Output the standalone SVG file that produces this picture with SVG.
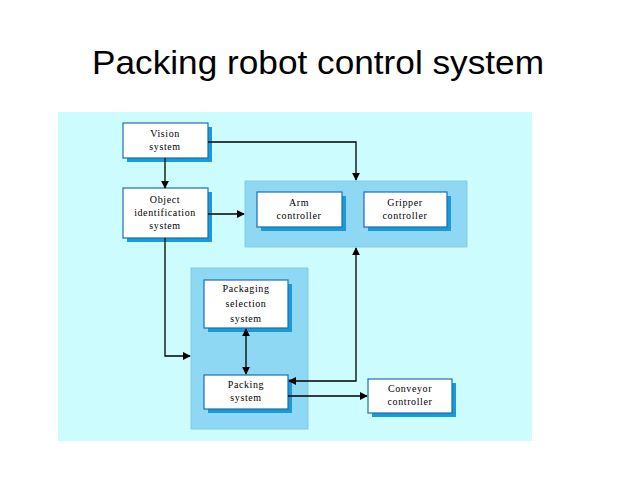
<svg xmlns="http://www.w3.org/2000/svg" width="638" height="479" viewBox="0 0 638 479">
<style>
.sh{fill:#1a9ad8}
.bx{fill:#fff;stroke:#1b6fb0;stroke-width:1.2}
.grp{fill:#8fd8f4;stroke:#7cc3e0;stroke-width:0.8}
.t{font-family:"Liberation Serif",serif;font-size:10px;fill:#000;text-anchor:middle;letter-spacing:0.6px}
.c{fill:none;stroke:#000;stroke-width:1.3}
</style>
<defs>
<marker id="a" viewBox="0 0 10 10" refX="9" refY="5" markerWidth="8" markerHeight="8" markerUnits="userSpaceOnUse" orient="auto-start-reverse"><path d="M0,0L10,5L0,10z" fill="#000"/></marker>
</defs>
<rect width="638" height="479" fill="#fff"/>
<text x="318" y="74" font-family="Liberation Sans, sans-serif" font-size="33" text-anchor="middle" textLength="452" lengthAdjust="spacingAndGlyphs">Packing robot control system</text>
<rect x="58" y="112" width="474" height="329" fill="#ccfcfe"/>
<rect class="grp" x="245" y="181" width="222" height="66"/>
<rect class="grp" x="191" y="268" width="117" height="161"/>
<g id="vision"><rect class="sh" x="127" y="127" width="85" height="35"/><rect class="bx" x="123" y="123" width="85" height="35"/><text class="t" x="165" y="137">Vision</text><text class="t" x="165" y="150">system</text></g>
<g id="object"><rect class="sh" x="127" y="192" width="85" height="50"/><rect class="bx" x="123" y="188" width="85" height="50"/><text class="t" x="165" y="203">Object</text><text class="t" x="165" y="216">identification</text><text class="t" x="165" y="229">system</text></g>
<g id="arm"><rect class="sh" x="261" y="196" width="85" height="35"/><rect class="bx" x="257" y="192" width="85" height="35"/><text class="t" x="299" y="206">Arm</text><text class="t" x="299" y="219">controller</text></g>
<g id="gripper"><rect class="sh" x="368" y="196" width="83" height="35"/><rect class="bx" x="364" y="192" width="83" height="35"/><text class="t" x="405" y="206">Gripper</text><text class="t" x="405" y="219">controller</text></g>
<g id="packsel"><rect class="sh" x="208" y="284" width="84" height="48"/><rect class="bx" x="204" y="280" width="84" height="48"/><text class="t" x="246" y="292">Packaging</text><text class="t" x="246" y="307">selection</text><text class="t" x="246" y="322">system</text></g>
<g id="packing"><rect class="sh" x="208" y="379" width="84" height="34"/><rect class="bx" x="204" y="375" width="84" height="34"/><text class="t" x="246" y="388">Packing</text><text class="t" x="246" y="401">system</text></g>
<g id="conveyor"><rect class="sh" x="372" y="383" width="84" height="34"/><rect class="bx" x="368" y="379" width="84" height="34"/><text class="t" x="410" y="392">Conveyor</text><text class="t" x="410" y="405">controller</text></g>
<g id="connectors">
<path class="c" d="M208,142H356V180" marker-end="url(#a)"/>
<path class="c" d="M165,158V188" marker-end="url(#a)"/>
<path class="c" d="M208,214H244" marker-end="url(#a)"/>
<path class="c" d="M165,238V356H190" marker-end="url(#a)"/>
<path class="c" d="M246,329V374" marker-start="url(#a)" marker-end="url(#a)"/>
<path class="c" d="M289,381H356V248" marker-start="url(#a)" marker-end="url(#a)"/>
<path class="c" d="M288,396H367" marker-end="url(#a)"/>
</g>
</svg>
